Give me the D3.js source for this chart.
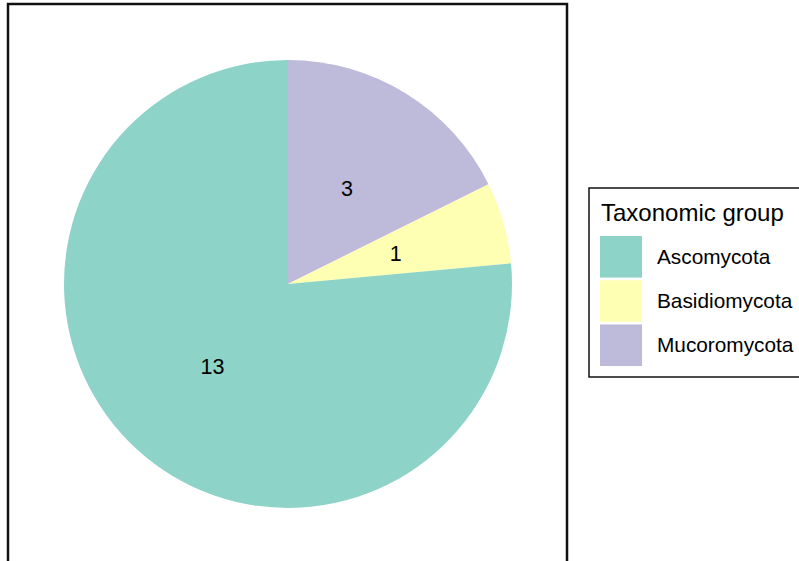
<!DOCTYPE html>
<html><head><meta charset="utf-8">
<script src="https://cdn.jsdelivr.net/npm/d3@7"></script>
<style>body{margin:0;background:#fff;} svg{display:block;font-family:"Liberation Sans",Arial,sans-serif;}</style>
</head><body>
<script>
const categories = ["Ascomycota", "Basidiomycota", "Mucoromycota"];
const counts = [13, 1, 3];
const colors = ["#8DD3C7", "#FFFFB3", "#BEBADA"];
const legendTitle = "Taxonomic group";

const W = 799, H = 561;
const svg = d3.select("body").append("svg").attr("width", W).attr("height", H);

const cx = 288, cy = 284, R = 224;
const data = categories.map((c, i) => ({cat: c, n: counts[i], col: colors[i]}));
// clockwise from top: last category first
const order = data.slice().reverse();
const pie = d3.pie().value(d => d.n).sort(null);
const arcs = pie(order);
const arc = d3.arc().innerRadius(0).outerRadius(R);
const labelArc = d3.arc().innerRadius(R / 2).outerRadius(R / 2);

// panel border
svg.append("rect").attr("x", 8).attr("y", 4).attr("width", 559).attr("height", 560)
  .attr("fill", "none").attr("stroke", "#111").attr("stroke-width", 2.5);

const g = svg.append("g").attr("transform", `translate(${cx},${cy})`);
g.selectAll("path").data(arcs).join("path")
  .attr("d", arc).attr("fill", d => d.data.col);
g.selectAll("text").data(arcs).join("text")
  .attr("transform", d => `translate(${labelArc.centroid(d)})`)
  .attr("text-anchor", "middle").attr("dy", "0.35em")
  .attr("font-size", 21.5).attr("fill", "#000")
  .text(d => d.data.n);

// legend
const lg = svg.append("g");
lg.append("rect").attr("x", 589).attr("y", 188).attr("width", 230).attr("height", 189)
  .attr("fill", "#fff").attr("stroke", "#111").attr("stroke-width", 1.5);
lg.append("text").attr("x", 601).attr("y", 221).attr("font-size", 24).attr("fill", "#000").text(legendTitle);
const ky = d3.scaleBand().domain(categories).range([236, 366]).paddingInner(0.06);
categories.forEach((c, i) => {
  lg.append("rect").attr("x", 600).attr("y", ky(c)).attr("width", 42).attr("height", ky.bandwidth())
    .attr("fill", colors[i]);
  lg.append("text").attr("x", 657).attr("y", ky(c) + ky.bandwidth() / 2).attr("dy", "0.35em")
    .attr("font-size", 20.8).attr("fill", "#000").text(c);
});
</script>
</body></html>
